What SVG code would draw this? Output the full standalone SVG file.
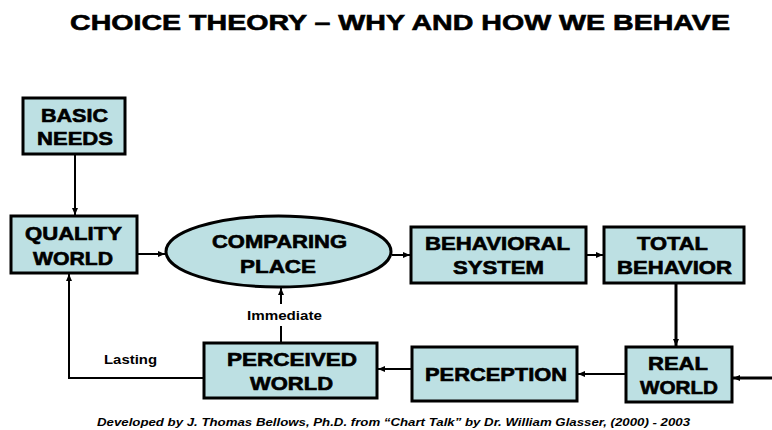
<svg xmlns="http://www.w3.org/2000/svg" width="772" height="430" viewBox="0 0 772 430">
<defs>
<style>
.n{fill:#bde0e3;stroke:#000;stroke-width:3}
.t{font-family:"Liberation Sans",Arial,sans-serif;font-weight:bold;font-size:18px;text-anchor:middle;fill:#000;stroke:#000;stroke-width:0.6}
.c{fill:none;stroke:#000;stroke-width:2}
.ck{fill:none;stroke:#000;stroke-width:3}
.s{font-family:"Liberation Sans",Arial,sans-serif;font-weight:bold;font-size:12px;fill:#000}
</style>
<marker id="a" markerWidth="8" markerHeight="8" refX="7" refY="4" orient="auto" markerUnits="userSpaceOnUse">
<path d="M0,1 L7,4 L0,7 Z" fill="#000"/>
</marker>
</defs>
<rect width="772" height="430" fill="#fff"/>
<text x="400" y="30" font-family="Liberation Sans,Arial,sans-serif" font-weight="bold" font-size="22" text-anchor="middle" stroke="#000" stroke-width="0.6" textLength="660" lengthAdjust="spacingAndGlyphs">CHOICE THEORY – WHY AND HOW WE BEHAVE</text>
<g id="connectors">
<line class="c" x1="75" y1="155" x2="75" y2="215" marker-end="url(#a)"/>
<line class="c" x1="138" y1="254" x2="165" y2="254" marker-end="url(#a)"/>
<line class="c" x1="392" y1="255" x2="410" y2="255" marker-end="url(#a)"/>
<line class="c" x1="587" y1="255" x2="603" y2="255" marker-end="url(#a)"/>
<line class="ck" x1="676" y1="284" x2="676" y2="346" marker-end="url(#a)"/>
<line class="ck" x1="772" y1="378" x2="733" y2="378" marker-end="url(#a)"/>
<line class="c" x1="625" y1="374" x2="578" y2="374" marker-end="url(#a)"/>
<line class="c" x1="411" y1="369" x2="378" y2="369" marker-end="url(#a)"/>
<polyline class="c" points="203,378 69,378 69,274" marker-end="url(#a)"/>
<line class="c" x1="281" y1="342" x2="281" y2="326"/>
<line class="c" x1="281" y1="304" x2="281" y2="288" marker-end="url(#a)"/>
<text class="s" x="284.5" y="320" text-anchor="middle" textLength="75" lengthAdjust="spacingAndGlyphs">Immediate</text>
<text class="s" x="104" y="364" textLength="53" lengthAdjust="spacingAndGlyphs">Lasting</text>
</g>
<g id="basic-needs"><rect class="n" x="23" y="98" width="102" height="56"/><text class="t" x="74.5" y="122" textLength="67" lengthAdjust="spacingAndGlyphs">BASIC</text><text class="t" x="75" y="145" textLength="76" lengthAdjust="spacingAndGlyphs">NEEDS</text></g>
<g id="quality-world"><rect class="n" x="11" y="216" width="126" height="57"/><text class="t" x="73.5" y="240" textLength="97" lengthAdjust="spacingAndGlyphs">QUALITY</text><text class="t" x="73" y="265" textLength="80" lengthAdjust="spacingAndGlyphs">WORLD</text></g>
<g id="comparing-place"><ellipse class="n" cx="278.5" cy="251.5" rx="112.5" ry="35.5"/><text class="t" x="279.5" y="248" textLength="135" lengthAdjust="spacingAndGlyphs">COMPARING</text><text class="t" x="278" y="273" textLength="76" lengthAdjust="spacingAndGlyphs">PLACE</text></g>
<g id="behavioral-system"><rect class="n" x="411" y="227" width="175" height="56"/><text class="t" x="497.5" y="250" textLength="145" lengthAdjust="spacingAndGlyphs">BEHAVIORAL</text><text class="t" x="498.5" y="274" textLength="91" lengthAdjust="spacingAndGlyphs">SYSTEM</text></g>
<g id="total-behavior"><rect class="n" x="604" y="227" width="140" height="56"/><text class="t" x="672.5" y="250" textLength="71" lengthAdjust="spacingAndGlyphs">TOTAL</text><text class="t" x="674.5" y="274" textLength="115" lengthAdjust="spacingAndGlyphs">BEHAVIOR</text></g>
<g id="real-world"><rect class="n" x="626" y="347" width="106" height="55"/><text class="t" x="678" y="370" textLength="60" lengthAdjust="spacingAndGlyphs">REAL</text><text class="t" x="679" y="394" textLength="78" lengthAdjust="spacingAndGlyphs">WORLD</text></g>
<g id="perception"><rect class="n" x="412" y="347" width="165" height="54"/><text class="t" x="496" y="381" textLength="142" lengthAdjust="spacingAndGlyphs">PERCEPTION</text></g>
<g id="perceived-world"><rect class="n" x="204" y="343" width="173" height="55"/><text class="t" x="292" y="366" textLength="130" lengthAdjust="spacingAndGlyphs">PERCEIVED</text><text class="t" x="291.5" y="390" textLength="83" lengthAdjust="spacingAndGlyphs">WORLD</text></g>
<text x="393.5" y="426" font-family="Liberation Sans,Arial,sans-serif" font-weight="bold" font-style="italic" font-size="11" text-anchor="middle" textLength="593" lengthAdjust="spacingAndGlyphs">Developed by J. Thomas Bellows, Ph.D. from “Chart Talk” by Dr. William Glasser, (2000) - 2003</text>
</svg>
